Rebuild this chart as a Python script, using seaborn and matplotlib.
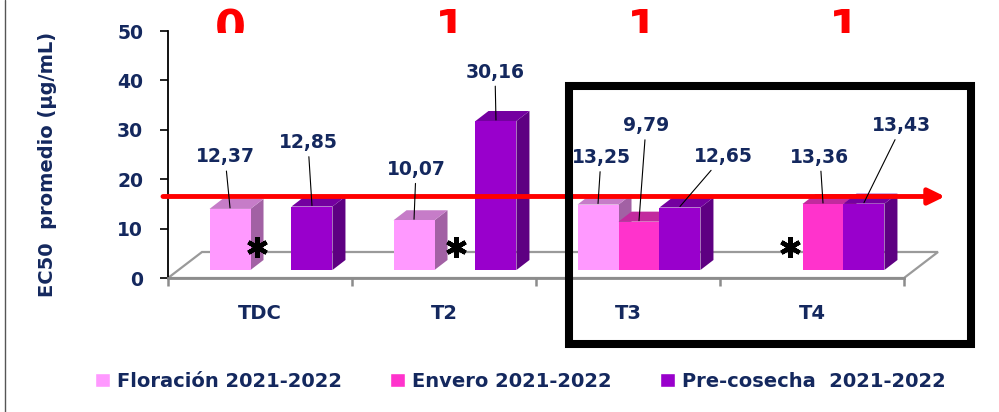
import numpy as np
import pandas as pd
import matplotlib
matplotlib.use("Agg")
import matplotlib.pyplot as plt
from matplotlib.patches import Polygon, Rectangle
from matplotlib.lines import Line2D
from matplotlib.colors import to_hex
import seaborn as sns

# ---- data ----
treatments = ["TDC", "T2", "T3", "T4"]
seasons = ["Floración 2021-2022", "Envero 2021-2022", "Pre-cosecha  2021-2022"]
floracion = [12.37, 10.07, 13.25, None]
envero = [None, None, 9.79, 13.36]
precosecha = [12.85, 30.16, 12.65, 13.43]
group_marks = ["0", "1", "1", "1"]
reference_level = 16.5
y_ticks = [0, 10, 20, 30, 40, 50]

# ---- style ----
front_colors = ["#FF99FF", "#FF33CC", "#9900CC"]
top_colors = ["#C67CC8", "#C22A9E", "#7400A0"]
side_colors = ["#A261A4", "#A01F80", "#5E0082"]
navy = "#14285E"

sns.set_style("white")
plt.rcParams["font.family"] = ["DejaVu Sans"]

rows = []
for season, values in zip(seasons, [floracion, envero, precosecha]):
    for t, v in zip(treatments, values):
        if v is not None:
            rows.append({"Tratamiento": t, "Temporada": season, "EC50": v})
df = pd.DataFrame(rows)

W, H = 999, 412
fig = plt.figure(figsize=(W / 100, H / 100), dpi=100)
AX_L, AX_R, AX_B, AX_T = 168, 904, 278, 31
ax = fig.add_axes([AX_L / W, 1 - AX_B / H, (AX_R - AX_L) / W, (AX_B - AX_T) / H])

group_width = 0.668
sns.barplot(data=df, x="Tratamiento", y="EC50", hue="Temporada",
            order=treatments, hue_order=seasons,
            palette=dict(zip(seasons, front_colors)), width=group_width,
            saturation=1, errorbar=None, ax=ax)
ax.set_xlim(-0.5, 3.5)
ax.set_ylim(0, 50)

ppx = (AX_R - AX_L) / 4.0   # pixels per category unit
ppy = (AX_B - AX_T) / 50.0  # pixels per value unit


def ux(p):
    return p / ppx


def uy(p):
    return p / ppy


shift = ux(11)        # bars sit a little back on the floor
base = uy(8)
depth_x, depth_y = ux(13), uy(10)
slot = group_width / len(seasons)

# floor of the 3D plot
floor_dx, floor_dy = ux(34), uy(26)
floor = Polygon([(-0.5, 0), (3.5, 0), (3.5 + floor_dx, floor_dy), (-0.5 + floor_dx, floor_dy)],
                closed=True, facecolor="white", edgecolor="#9a9a9a", lw=1.6,
                zorder=0.5, clip_on=False)
ax.add_patch(floor)

# leader-line label offsets (pixels) per (treatment, season)
label_offsets = {
    ("TDC", 0): (-5, 51), ("TDC", 2): (-4, 63),
    ("T2", 0): (2, 50), ("T2", 2): (-1, 48),
    ("T3", 0): (3, 46), ("T3", 1): (7, 95), ("T3", 2): (43, 50),
    ("T4", 1): (-3, 46), ("T4", 2): (38, 77),
}

bars = []
for p in list(ax.patches):
    if p is floor or np.isnan(p.get_height()) or p.get_height() <= 0:
        continue
    hue_idx = [c.lower() for c in front_colors].index(to_hex(p.get_facecolor()))
    bars.append((p, hue_idx))
bars.sort(key=lambda b: b[0].get_x())

for k, (p, hi) in enumerate(bars):
    z = 2 + 0.01 * k
    h = p.get_height()
    x0 = p.get_x() + shift
    w = p.get_width()
    x1 = x0 + w
    p.set_x(x0)
    p.set_y(base)
    p.set_linewidth(0)
    p.set_zorder(z + 0.005)
    p.set_clip_on(False)
    top = base + h
    side = Polygon([(x1, base), (x1 + depth_x, base + depth_y),
                    (x1 + depth_x, top + depth_y), (x1, top)],
                   closed=True, facecolor=side_colors[hi], lw=0, zorder=z, clip_on=False)
    lid = Polygon([(x0, top), (x1, top), (x1 + depth_x, top + depth_y), (x0 + depth_x, top + depth_y)],
                  closed=True, facecolor=top_colors[hi], lw=0, zorder=z, clip_on=False)
    ax.add_patch(side)
    ax.add_patch(lid)

    t_idx = int(round(p.get_x() - shift + w / 2 + (1 - hi) * slot))
    ox, oy = label_offsets[(treatments[t_idx], hi)]
    ax.annotate(f"{h:.2f}".replace(".", ","), xy=(x0 + w / 2, top + uy(1)),
                xytext=(ox, oy), textcoords="offset pixels",
                ha="center", va="center", fontsize=13.5, fontweight="bold", color=navy,
                arrowprops=dict(arrowstyle="-", color="black", lw=0.8, shrinkA=1, shrinkB=0),
                annotation_clip=False, zorder=6)

# asterisks where a season has no value
star_offsets = [-14, 1, 8]
missing = [(ti, si) for ti, t in enumerate(treatments)
           for si, vals in enumerate([floracion, envero, precosecha]) if vals[ti] is None]
for (ti, si), off in zip(missing, star_offsets):
    cx = ti + (si - 1) * slot + shift + ux(off)
    ax.plot([cx], [uy(AX_B - 247)], marker=(6, 2, 0), markersize=15, mew=3.2,
            color="black", clip_on=False, zorder=4)

# reference line with arrow
ax.annotate("", xy=(3.5 + ux(945 - AX_R), reference_level), xytext=(-0.5 - ux(5), reference_level),
            arrowprops=dict(arrowstyle="-|>,head_length=0.45,head_width=0.22", color="red",
                            lw=3.5, shrinkA=0, shrinkB=0, mutation_scale=22),
            annotation_clip=False, zorder=5)

# group marks above the bars, cut along a line near the top of the plot
mark_clip = Rectangle((0, 1 - 33 / H), 1, 33 / H, transform=fig.transFigure)
mark_offsets = [-30, 6, 14, 32]
for i, (m, off) in enumerate(zip(group_marks, mark_offsets)):
    t = ax.text(i + ux(off), uy(AX_B - 42), m, color="red", fontsize=32, fontweight="bold",
                ha="center", va="baseline", zorder=7)
    t.set_clip_path(mark_clip)
    t.set_clip_on(True)

# axes styling
ax.set_xlabel("")
ax.set_ylabel("")
ax.set_yticks(y_ticks)
ax.tick_params(axis="y", direction="out", length=5.8, width=1.2, color="black",
               pad=12, labelsize=13.5, labelcolor=navy, left=True)
for lbl in ax.get_yticklabels():
    lbl.set_fontweight("bold")
ax.set_xticks(range(len(treatments)))
ax.set_xticklabels(treatments, fontsize=14, fontweight="bold", color=navy)
ax.tick_params(axis="x", which="major", length=0, pad=19)
ax.set_xticks(np.arange(-0.5, 4, 1), minor=True)
ax.tick_params(axis="x", which="minor", length=6, width=1.8, color="#8c8c8c",
               direction="out", bottom=True)
for s in ["top", "right"]:
    ax.spines[s].set_visible(False)
ax.spines["left"].set_color("black")
ax.spines["left"].set_linewidth(1.3)
ax.spines["bottom"].set_color("#8c8c8c")
ax.spines["bottom"].set_linewidth(2)
ax.patch.set_alpha(0)

fig.text(48 / W, 1 - 164 / H, "EC50  promedio (µg/mL)", rotation=90, ha="center",
         va="center", fontsize=14, fontweight="bold", color=navy)

# legend below the plot
leg = ax.get_legend()
handles = leg.legend_handles
labels = [t.get_text() for t in leg.get_texts()]
leg.remove()
fig.legend(handles, labels, loc="center", bbox_to_anchor=(0.521, 0.075), ncol=3,
           frameon=False, handlelength=0.77, handleheight=0.77, handletextpad=0.35,
           columnspacing=2.5, prop=dict(size=14, weight="bold"), labelcolor=navy)

# highlight frame around T3 and T4
fig.add_artist(Rectangle((569 / W, 1 - 343.5 / H), (971 - 569) / W, (343.5 - 86) / H,
                         transform=fig.transFigure, fill=False, edgecolor="black",
                         lw=5.8, zorder=10))
# left border
fig.add_artist(Line2D([5 / W, 5 / W], [0, 1], transform=fig.transFigure,
                      color="#555555", lw=1))

fig.savefig("out.png", dpi=100)
